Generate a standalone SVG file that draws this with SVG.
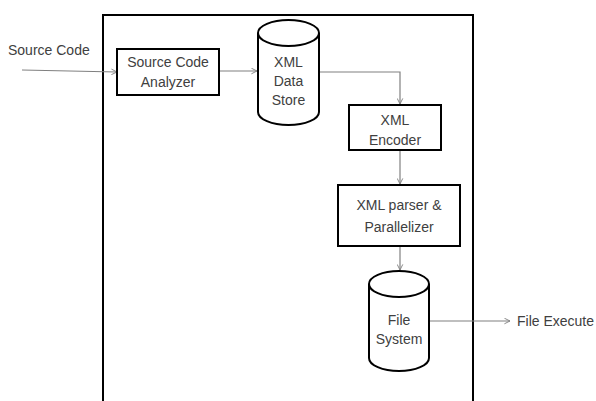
<svg xmlns="http://www.w3.org/2000/svg" width="596" height="401" viewBox="0 0 596 401">
  <defs>
    <marker id="arrow" viewBox="0 0 10 10" refX="9" refY="5" markerWidth="7" markerHeight="7" markerUnits="userSpaceOnUse" orient="auto">
      <path d="M1,1 L9,5 L1,9" fill="none" stroke="#808080" stroke-width="1.3"/>
    </marker>
  </defs>
  <style>
    .box { fill: #ffffff; stroke: #000000; stroke-width: 2; }
    .frame { fill: none; stroke: #000000; stroke-width: 2; }
    .conn { fill: none; stroke: #808080; stroke-width: 1.2; marker-end: url(#arrow); }
    text { font-family: "Liberation Sans", Arial, sans-serif; font-size: 14px; fill: #404040; }
    .c { text-anchor: middle; }
  </style>
  <rect width="596" height="401" fill="#ffffff"/>

  <!-- system boundary (open at the bottom) -->
  <path class="frame" d="M103,402 L103,15 L473,15 L473,402"/>

  <g id="connectors">
    <path class="conn" d="M22,70 L117,72"/>
    <path class="conn" d="M219,71 L257,71"/>
    <path class="conn" d="M319,72 L400,72 L400,104"/>
    <path class="conn" d="M400,150 L400,184"/>
    <path class="conn" d="M400,246 L400,270"/>
    <path class="conn" d="M429,321 L510,321"/>
  </g>

  <g id="source-code-input">
    <text x="8" y="55">Source Code</text>
  </g>

  <g id="source-code-analyzer">
    <rect class="box" x="117" y="49" width="102" height="46"/>
    <text class="c" x="168" y="67">Source Code</text>
    <text class="c" x="168" y="87">Analyzer</text>
  </g>

  <g id="xml-data-store">
    <path class="box" d="M258,33 L258,112 A30.5,13 0 0 0 319,112 L319,33 A30.5,13 0 0 0 258,33 Z"/>
    <path class="box" fill="none" d="M258,33 A30.5,13 0 0 0 319,33"/>
    <text class="c" x="288.5" y="67">XML</text>
    <text class="c" x="288.5" y="86">Data</text>
    <text class="c" x="288.5" y="105">Store</text>
  </g>

  <g id="xml-encoder">
    <rect class="box" x="349" y="105" width="92" height="45"/>
    <text class="c" x="395" y="125">XML</text>
    <text class="c" x="395" y="145">Encoder</text>
  </g>

  <g id="xml-parser">
    <rect class="box" x="338" y="185" width="122" height="61"/>
    <text class="c" x="399" y="210">XML parser &amp;</text>
    <text class="c" x="399" y="232">Parallelizer</text>
  </g>

  <g id="file-system">
    <path class="box" d="M369,284 L369,358 A30,13 0 0 0 429,358 L429,284 A30,13 0 0 0 369,284 Z"/>
    <path class="box" fill="none" d="M369,284 A30,13 0 0 0 429,284"/>
    <text class="c" x="399" y="325">File</text>
    <text class="c" x="399" y="344">System</text>
  </g>

  <g id="file-execute">
    <text x="517" y="326">File Execute</text>
  </g>
</svg>
